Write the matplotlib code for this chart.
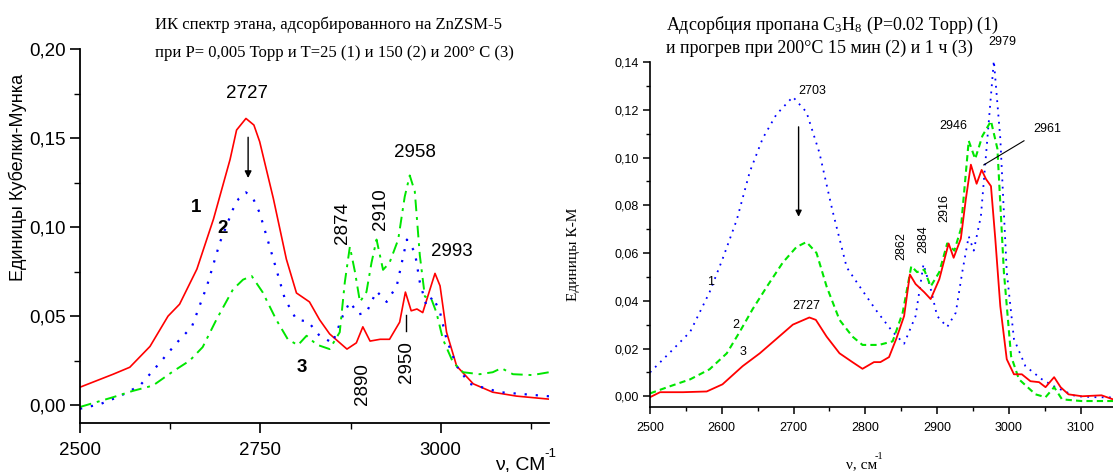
import matplotlib
matplotlib.use("Agg")
import matplotlib.pyplot as plt
from matplotlib.ticker import MultipleLocator, FuncFormatter

# ---- left chart: ethane on ZnZSM-5 ----
nu_l1 = [2500, 2546, 2569, 2597, 2622, 2638, 2662, 2685, 2708, 2717, 2730, 2741, 2749,
         2768, 2786, 2800, 2818, 2832, 2846, 2870, 2883, 2892, 2902, 2916, 2929, 2943,
         2951, 2959, 2967, 2975, 2985, 2992, 2999, 3008, 3022, 3045, 3072, 3105, 3150]
val_l1 = [0.0101, 0.0174, 0.0213, 0.033, 0.050, 0.0567, 0.0764, 0.1045, 0.138, 0.1545,
          0.161, 0.1573, 0.148, 0.116, 0.082, 0.063, 0.058, 0.048, 0.040, 0.0315, 0.035,
          0.044, 0.036, 0.037, 0.037, 0.0466, 0.0635, 0.053, 0.054, 0.052, 0.065, 0.074,
          0.067, 0.041, 0.022, 0.012, 0.0073, 0.0051, 0.0034]

nu_l2 = [2500, 2528, 2555, 2583, 2611, 2634, 2655, 2676, 2694, 2712, 2720, 2730, 2740,
         2749, 2768, 2784, 2800, 2816, 2832, 2850, 2864, 2874, 2886, 2897, 2911, 2925,
         2939, 2953, 2964, 2971, 2980, 2989, 2999, 3008, 3022, 3040, 3082, 3150]
val_l2 = [-0.002, 0.0006, 0.005, 0.011, 0.024, 0.035, 0.044, 0.067, 0.0915, 0.110,
          0.116, 0.1195, 0.116, 0.108, 0.082, 0.0596, 0.048, 0.047, 0.039, 0.035, 0.050,
          0.058, 0.051, 0.052, 0.064, 0.058, 0.067, 0.093, 0.086, 0.069, 0.056, 0.061,
          0.052, 0.037, 0.022, 0.012, 0.0073, 0.005]

nu_l3 = [2500, 2546, 2573, 2601, 2629, 2652, 2670, 2689, 2712, 2726, 2738, 2753, 2772,
         2788, 2802, 2814, 2828, 2846, 2860, 2867, 2874, 2881, 2888, 2897, 2904, 2911,
         2920, 2929, 2941, 2950, 2957, 2964, 2971, 2978, 2987, 2994, 3003, 3017, 3031,
         3054, 3072, 3084, 3100, 3127, 3150]
val_l3 = [-0.001, 0.0045, 0.008, 0.011, 0.019, 0.025, 0.0326, 0.048, 0.065, 0.0705,
          0.0725, 0.0635, 0.048, 0.037, 0.0337, 0.039, 0.034, 0.0315, 0.041, 0.069, 0.089,
          0.075, 0.058, 0.0636, 0.080, 0.093, 0.076, 0.080, 0.093, 0.117, 0.129, 0.120,
          0.084, 0.061, 0.0596, 0.052, 0.037, 0.024, 0.0185, 0.0174, 0.0185, 0.0208,
          0.0174, 0.0169, 0.0185]

# ---- right chart: propane ----
nu_r1 = [2500, 2528, 2556, 2583, 2601, 2621, 2639, 2657, 2676, 2699, 2718, 2736, 2754,
         2774, 2792, 2815, 2838, 2854, 2870, 2881, 2891, 2900, 2914, 2926, 2935, 2944,
         2951, 2961, 2970, 2979, 2988, 2997, 3007, 3023, 3046, 3065, 3093, 3121, 3145]
val_r1 = [0.010, 0.0184, 0.027, 0.0436, 0.0574, 0.074, 0.094, 0.108, 0.118, 0.1254,
          0.119, 0.102, 0.078, 0.054, 0.046, 0.036, 0.027, 0.022, 0.0336, 0.0553, 0.045,
          0.0336, 0.029, 0.035, 0.052, 0.067, 0.061, 0.0755, 0.108, 0.1405, 0.108, 0.052,
          0.024, 0.0126, 0.0071, 0.0038, 0.0, -0.0004, -0.0005]

nu_r2 = [2500, 2528, 2556, 2583, 2607, 2625, 2643, 2663, 2685, 2704, 2718, 2732, 2746,
         2764, 2782, 2796, 2819, 2838, 2852, 2864, 2872, 2882, 2891, 2903, 2914, 2924,
         2933, 2944, 2953, 2963, 2975, 2984, 2993, 3003, 3014, 3037, 3051, 3063, 3074,
         3101, 3145]
val_r2 = [0.0012, 0.0042, 0.0071, 0.0113, 0.018, 0.027, 0.0365, 0.046, 0.056, 0.0625,
          0.0646, 0.060, 0.046, 0.032, 0.025, 0.0215, 0.0215, 0.023, 0.035, 0.0545, 0.052,
          0.053, 0.046, 0.052, 0.064, 0.061, 0.070, 0.107, 0.0994, 0.109, 0.1153, 0.1036,
          0.052, 0.0168, 0.0071, 0.0008, -0.0004, 0.0038, -0.0013, -0.002, -0.002]

nu_r3 = [2500, 2514, 2546, 2579, 2601, 2629, 2653, 2676, 2699, 2722, 2731, 2746, 2764,
         2782, 2796, 2812, 2821, 2833, 2843, 2854, 2862, 2870, 2882, 2891, 2903, 2916,
         2923, 2933, 2940, 2947, 2955, 2962, 2968, 2975, 2981, 2988, 2997, 3007, 3018,
         3030, 3042, 3051, 3063, 3072, 3083, 3102, 3129, 3145]
val_r3 = [-0.0004, 0.0017, 0.0017, 0.002, 0.005, 0.0126, 0.018, 0.024, 0.030, 0.033,
          0.032, 0.025, 0.018, 0.0143, 0.0115, 0.0143, 0.0143, 0.0164, 0.024, 0.0336,
          0.051, 0.047, 0.0436, 0.0407, 0.049, 0.064, 0.058, 0.066, 0.0826, 0.097, 0.089,
          0.0948, 0.091, 0.088, 0.066, 0.0377, 0.0155, 0.0092, 0.0092, 0.0063, 0.0059,
          0.0038, 0.008, 0.0038, 0.0008, 0.0, 0.0004, -0.0013]

NARROW = ['Liberation Sans Narrow', 'Liberation Sans', 'DejaVu Sans']
SANS = ['Liberation Sans', 'DejaVu Sans']
SERIF = ['Liberation Serif', 'DejaVu Serif']

W, H = 1113, 472


def px(x, y):
    return x / W, 1 - y / H


def comma(v, pos):
    return f"{v:.2f}".replace('.', ',')


fig = plt.figure(figsize=(W / 100, H / 100), dpi=100)

# ================= left =================
axl = fig.add_axes([80 / W, 1 - 423 / H, (549 - 80) / W, (423 - 49) / H])
axl.plot(nu_l1, val_l1, color='#ff0000', lw=1.2)
axl.plot(nu_l2, val_l2, color='#0000ff', lw=1.6, linestyle=(0, (1, 4)))
axl.plot(nu_l3, val_l3, color='#00e600', lw=1.4, linestyle=(0, (6, 3, 1.5, 3)))
axl.set_xlim(2500, 3150)
axl.set_ylim(-0.01, 0.20)
axl.spines['top'].set_visible(False)
axl.spines['right'].set_visible(False)
for s in ('left', 'bottom'):
    axl.spines[s].set_linewidth(1.3)
axl.xaxis.set_major_locator(MultipleLocator(250))
axl.xaxis.set_minor_locator(MultipleLocator(125))
axl.yaxis.set_major_locator(MultipleLocator(0.05))
axl.yaxis.set_minor_locator(MultipleLocator(0.025))
axl.yaxis.set_major_formatter(FuncFormatter(comma))
axl.tick_params(which='major', direction='out', length=7, width=1.2, pad=3)
axl.tick_params(which='minor', direction='out', length=4, width=1.0)
axl.tick_params(axis='x', which='major', pad=7)
for lab in axl.get_xticklabels() + axl.get_yticklabels():
    lab.set_family(NARROW)
    lab.set_fontsize(13.5)

kw = dict(family=NARROW, fontsize=13.5, ha='center', va='center')
axl.text(2731, 0.175, '2727', **kw)
axl.annotate('', xy=(2733, 0.126), xytext=(2733, 0.152),
             arrowprops=dict(arrowstyle='-|>', color='black', lw=1.0, mutation_scale=10))
axl.text(2661, 0.111, '1', fontweight='bold', **kw)
axl.text(2698, 0.099, '2', fontweight='bold', **kw)
axl.text(2808, 0.021, '3', fontweight='bold', **kw)
axl.text(2964, 0.142, '2958', **kw)
axl.text(3015, 0.0865, '2993', **kw)
axl.text(2864, 0.102, '2874', rotation=90, **kw)
axl.text(2917, 0.110, '2910', rotation=90, **kw)
axl.text(2892, 0.012, '2890', rotation=90, **kw)
axl.text(2952, 0.024, '2950', rotation=90, **kw)
axl.plot([2952, 2952], [0.0416, 0.0506], color='black', lw=1.0)

fig.text(*px(155, 29), 'ИК спектр этана, адсорбированного на ZnZSM-5',
         family=SERIF, fontsize=12, ha='left', va='baseline')
fig.text(*px(155, 57), 'при P= 0,005 Торр и T=25 (1) и 150 (2) и 200° C (3)',
         family=SERIF, fontsize=12, ha='left', va='baseline')
fig.text(*px(18, 177), 'Единицы Кубелки-Мунка', family=NARROW, fontsize=13,
         rotation=90, ha='center', va='center')
fig.text(*px(495, 470), 'ν, СМ', family=NARROW, fontsize=14, ha='left', va='baseline')
fig.text(*px(544, 457), '-1', family=NARROW, fontsize=9.5, ha='left', va='baseline')

# ================= right =================
axr = fig.add_axes([650 / W, 1 - 407 / H, (W - 650) / W, (407 - 62) / H])
axr.plot(nu_r1, val_r1, color='#0000ff', lw=1.3, linestyle=(0, (1, 3)))
axr.plot(nu_r2, val_r2, color='#00e600', lw=1.5, linestyle=(0, (3, 2)))
axr.plot(nu_r3, val_r3, color='#ff0000', lw=1.3)
axr.set_xlim(2500, 3145)
axr.set_ylim(-0.0045, 0.14)
axr.spines['top'].set_visible(False)
axr.spines['right'].set_visible(False)
for s in ('left', 'bottom'):
    axr.spines[s].set_linewidth(1.2)
axr.xaxis.set_major_locator(MultipleLocator(100))
axr.xaxis.set_minor_locator(MultipleLocator(50))
axr.yaxis.set_major_locator(MultipleLocator(0.02))
axr.yaxis.set_minor_locator(MultipleLocator(0.01))
axr.yaxis.set_major_formatter(FuncFormatter(comma))
axr.tick_params(which='major', direction='out', length=5, width=1.1, pad=3)
axr.tick_params(which='minor', direction='out', length=3, width=1.0)
axr.tick_params(axis='x', which='major', pad=6)
for lab in axr.get_xticklabels() + axr.get_yticklabels():
    lab.set_family(SANS)
    lab.set_fontsize(9)

kr = dict(family=SANS, fontsize=9, ha='center', va='center')
axr.text(2706, 0.128, '2703', family=SANS, fontsize=9, ha='left', va='center')
axr.annotate('', xy=(2707, 0.074), xytext=(2707, 0.114),
             arrowprops=dict(arrowstyle='-|>', color='black', lw=1.0, mutation_scale=9))
axr.text(2585, 0.048, '1', **kr)
axr.text(2619, 0.030, '2', **kr)
axr.text(2629, 0.0184, '3', **kr)
axr.text(2718, 0.0377, '2727', **kr)
axr.text(2850, 0.063, '2862', rotation=90, **kr)
axr.text(2881, 0.066, '2884', rotation=90, **kr)
axr.text(2910, 0.079, '2916', rotation=90, **kr)
axr.text(2923, 0.113, '2946', **kr)
axr.text(2991, 0.1485, '2979', **kr)
axr.text(3053, 0.112, '2961', **kr)
axr.plot([2965, 3021], [0.0969, 0.107], color='black', lw=0.8)

fig.text(*px(666, 30), 'Адсорбция пропана C$\\mathregular{_3}$H$\\mathregular{_8}$ (P=0.02 Торр) (1)',
         family=SERIF, fontsize=13, ha='left', va='baseline')
fig.text(*px(666, 53), 'и прогрев при 200°C 15 мин (2) и 1 ч (3)',
         family=SERIF, fontsize=13, ha='left', va='baseline')
fig.text(*px(573, 254), 'Единицы К-М', family=SERIF, fontsize=11,
         rotation=90, ha='center', va='center')
fig.text(*px(846, 468), 'ν, см', family=SERIF, fontsize=11, ha='left', va='baseline')
fig.text(*px(875, 459), '-1', family=SERIF, fontsize=7.5, ha='left', va='baseline')

fig.savefig('out.png', dpi=100)
